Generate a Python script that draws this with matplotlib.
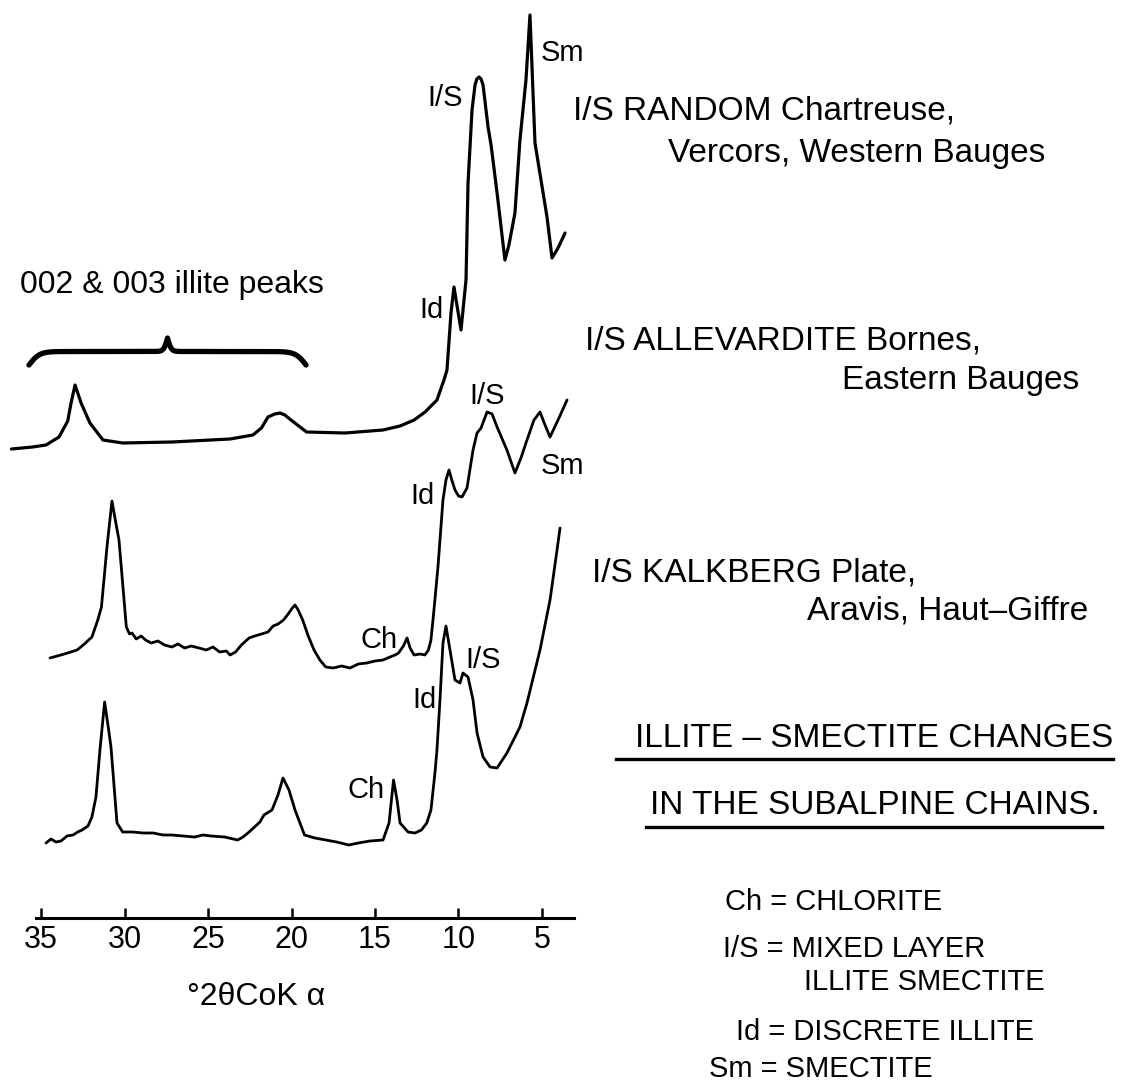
import matplotlib
matplotlib.use("Agg")
import matplotlib.pyplot as plt
from matplotlib.lines import Line2D
import numpy as np

plt.rcParams['font.family'] = ['Liberation Sans', 'DejaVu Sans']

# ---- data: degrees 2theta and relative intensity (a.u.) for each trace ----
theta_random = [36.77, 35.5, 34.70, 33.92, 33.4, 33.2, 32.96, 32.8, 32.6, 32.07,
                31.29, 30.11, 27.16, 23.68, 22.31, 21.8, 21.41, 21.0, 20.69, 20.4,
                20.03, 19.10, 16.80, 14.52, 13.5, 12.66, 12.0, 11.29, 10.87, 10.69,
                10.45, 10.27, 9.85, 9.55, 9.43, 9.19, 9.01, 8.9, 8.77, 8.65,
                8.53, 8.23, 8.05, 7.69, 7.22, 6.98, 6.62, 6.32, 5.96, 5.72,
                5.42, 5.06, 4.70, 4.40, 4.04, 3.62]
int_random = [-6, -4, -2, 6, 22, 40, 58, 50, 40, 20,
              3, 0, 1, 4, 8, 15, 26, 29, 30, 28,
              23, 11, 10, 13, 17, 23, 31, 43, 63, 73,
              130, 156, 113, 163, 260, 333, 358, 364, 366, 364,
              358, 316, 298, 250, 183, 198, 230, 303, 363, 428,
              300, 263, 226, 185, 195, 210]

theta_allev = [34.46, 33.6, 32.84, 32.4, 31.95, 31.6, 31.38, 31.05, 30.75, 30.55,
               30.33, 29.89, 29.7, 29.55, 29.3, 29.0, 28.74, 28.4, 28.0, 27.6,
               27.16, 26.8, 26.4, 26.0, 25.54, 25.1, 24.7, 24.3, 23.9, 23.68,
               23.35, 23.0, 22.54, 22.2, 21.8, 21.41, 21.1, 20.8, 20.48, 20.2,
               19.95, 19.79, 19.6, 19.33, 19.0, 18.65, 18.3, 17.95, 17.5, 17.0,
               16.5, 16.0, 15.5, 15.0, 14.52, 14.1, 13.8, 13.59, 13.3, 13.08,
               12.9, 12.66, 12.3, 12.01, 11.8, 11.65, 11.47, 11.23, 10.93, 10.75,
               10.57, 10.4, 10.21, 10.0, 9.79, 9.49, 9.13, 8.89, 8.65, 8.29,
               7.99, 7.69, 7.10, 6.62, 6.26, 5.90, 5.48, 5.12, 4.82, 4.52,
               4.04, 3.50]
int_allev = [-10, -6, -2, 4, 11, 28, 41, 101, 147, 128,
             108, 21, 14, 15, 9, 12, 8, 5, 7, 3,
             1, 4, 0, 2, 0, -2, 1, -4, -3, -7,
             -4, 3, 10, 12, 14, 16, 22, 24, 28, 34,
             40, 43, 38, 28, 12, -2, -12, -19, -20, -18,
             -20, -16, -15, -13, -12, -9, -7, -5, 2, 10,
             0, -7, -6, -7, -2, 8, 38, 81, 148, 168,
             178, 168, 158, 152, 151, 160, 198, 215, 220, 236,
             234, 221, 198, 175, 190, 208, 228, 236, 223, 211,
             228, 248]

theta_kalk = [34.70, 34.4, 34.1, 33.80, 33.44, 33.08, 32.8, 32.54, 32.19, 31.95,
              31.71, 31.47, 31.19, 30.99, 30.81, 30.45, 30.11, 29.5, 28.9, 28.29,
              27.7, 27.16, 26.5, 25.8, 25.3, 24.82, 24.0, 23.23, 22.9, 22.54,
              21.89, 21.65, 21.17, 20.81, 20.51, 20.15, 19.79, 19.22, 18.6, 17.95,
              17.3, 16.57, 16.0, 15.3, 14.52, 14.16, 13.89, 13.68, 13.50, 13.02,
              12.6, 12.22, 11.9, 11.65, 11.41, 11.29, 11.11, 10.93, 10.75, 10.51,
              10.21, 9.91, 9.73, 9.43, 9.13, 8.89, 8.53, 8.11, 7.69, 7.10,
              6.32, 5.90, 5.12, 4.52, 4.10, 3.92]
int_kalk = [-8, -4, -7, -6, -1, 0, 3, 5, 9, 18,
            38, 85, 133, 110, 88, 12, 3, 3, 2, 2,
            0, 0, -1, -2, 0, -1, -2, -5, -2, 3,
            13, 20, 25, 40, 57, 45, 25, 0, -3, -5,
            -7, -10, -8, -6, -5, 12, 55, 35, 12, 3,
            2, 5, 12, 25, 62, 85, 135, 192, 209, 185,
            155, 152, 162, 158, 135, 102, 78, 68, 67, 82,
            108, 132, 185, 235, 285, 307]

trace_offsets = [475, 270, 83]
tick_values = [35, 30, 25, 20, 15, 10, 5]

W, H = 1123, 1083
fig = plt.figure(figsize=(W / 100, H / 100), dpi=100)
fig.patch.set_facecolor('white')


def th(px):
    # pixel column -> degrees 2theta on the drawing's scale
    return 35 - (px - 41) / 16.7


axis_px = 918
ax = fig.add_axes([0, (H - axis_px) / H, 1, axis_px / H])
ax.set_xlim(th(0), th(W))
ax.set_ylim(0, axis_px)
ax.patch.set_alpha(0)

ax.plot(theta_random, np.array(int_random) + trace_offsets[0], color='black', lw=2.3,
        solid_joinstyle='round', solid_capstyle='round')
ax.plot(theta_allev, np.array(int_allev) + trace_offsets[1], color='black', lw=2.0,
        solid_joinstyle='round', solid_capstyle='round')
ax.plot(theta_kalk, np.array(int_kalk) + trace_offsets[2], color='black', lw=2.0,
        solid_joinstyle='round', solid_capstyle='round')

# x axis
for s in ['left', 'right', 'top']:
    ax.spines[s].set_visible(False)
ax.spines['bottom'].set_bounds(th(574), th(36))
ax.spines['bottom'].set_linewidth(2.2)
ax.set_xticks(tick_values)
ax.set_xticklabels([str(v) for v in tick_values])
ax.tick_params(axis='x', direction='in', length=7, width=1.8, labelsize=22, pad=5)
ax.set_yticks([])

# peak labels
lab_fs = 21
peak_labels = [
    ("Sm", 3.80, 857), ("I/S", 10.81, 812), ("Id", 11.59, 600),
    ("I/S", 8.29, 514), ("Sm", 3.80, 444), ("Id", 12.13, 414), ("Ch", 14.76, 270),
    ("Ch", 15.54, 120), ("Id", 12.01, 210), ("I/S", 8.53, 250),
]
for txt, x, y in peak_labels:
    ax.text(x, y, txt, fontsize=lab_fs, ha='center', va='baseline')

# curly brace over the 002 & 003 illite peaks
b_left, b_right = th(29), th(306)
b_base, b_h = axis_px - 365, 27
L = b_left - b_right
u = np.linspace(0, L / 2, 300)
sig = lambda z: 1 / (1 + np.exp(-z))
half = (b_h / 2) * (2 * sig(3.2 * u) - 1) + b_h * sig(9 * (u - L / 2))
bx = np.concatenate([b_left - u, b_right + u[::-1]])
by = np.concatenate([half, half[::-1]]) + b_base
ax.plot(bx, by, color='black', lw=3.8, solid_capstyle='round')


def ftext(x, y, s, **kw):
    fig.text(x / W, 1 - y / H, s, **kw)


ftext(172, 293, "002 & 003 illite peaks", fontsize=23, ha='center', va='baseline')
ftext(256, 1005, "°2θCoK α", fontsize=23, ha='center', va='baseline')

big = 24
ftext(573, 119, "I/S RANDOM Chartreuse,", fontsize=big, va='baseline')
ftext(1045, 162, "Vercors, Western Bauges", fontsize=big, ha='right', va='baseline')
ftext(585, 349, "I/S ALLEVARDITE Bornes,", fontsize=big, va='baseline')
ftext(1079, 389, "Eastern Bauges", fontsize=big, ha='right', va='baseline')
ftext(592, 582, "I/S KALKBERG Plate,", fontsize=big, va='baseline')
ftext(1088, 620, "Aravis, Haut\u2013Giffre", fontsize=big, ha='right', va='baseline')

ftext(1113, 747, "ILLITE \u2013 SMECTITE CHANGES", fontsize=big, ha='right', va='baseline')
ftext(1100, 814, "IN THE SUBALPINE CHAINS.", fontsize=big, ha='right', va='baseline')
for x0, x1, y in [(616, 1113, 759), (646, 1102, 827)]:
    fig.add_artist(Line2D([x0 / W, x1 / W], [1 - y / H, 1 - y / H], color='black', lw=2.4))

leg = 21
ftext(725, 910, "Ch = CHLORITE", fontsize=leg, va='baseline')
ftext(723, 957, "I/S = MIXED LAYER", fontsize=leg, va='baseline')
ftext(804, 990, "ILLITE SMECTITE", fontsize=leg, va='baseline')
ftext(736, 1040, "Id = DISCRETE ILLITE", fontsize=leg, va='baseline')
ftext(709, 1077, "Sm = SMECTITE", fontsize=leg, va='baseline')

fig.savefig("out.png", dpi=100, facecolor='white')
